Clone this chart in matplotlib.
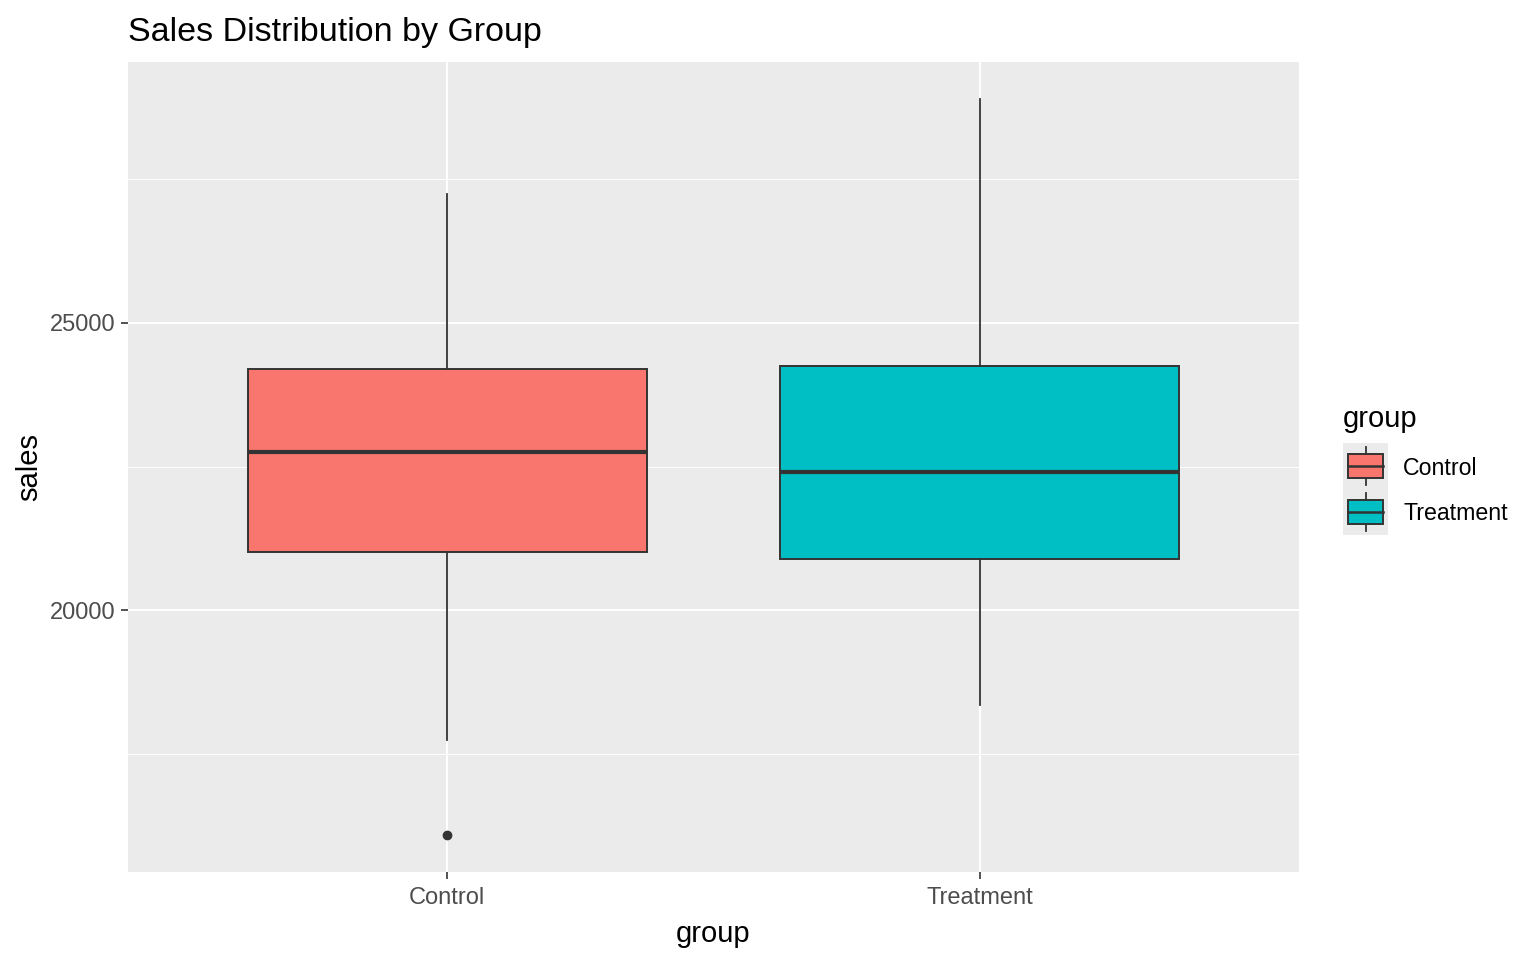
import matplotlib.pyplot as plt
from matplotlib.patches import Rectangle

plt.rcParams['font.family'] = ['Liberation Sans', 'DejaVu Sans']

groups = ['Control', 'Treatment']
colors = ['#F8766D', '#00BFC4']
whislo = [17743, 18351]
q1 = [21007, 20885]
med = [22760, 22413]
q3 = [24201, 24253]
whishi = [27240, 28889]
fliers = [[16094], []]

stats = []
for i in range(len(groups)):
    stats.append(dict(label=groups[i], whislo=whislo[i], q1=q1[i], med=med[i],
                      q3=q3[i], whishi=whishi[i], fliers=fliers[i]))

fig = plt.figure(figsize=(15.36, 9.6), dpi=100)
ax = fig.add_axes([128 / 1536, 1 - 872 / 960, (1299 - 128) / 1536, (872 - 62) / 960])
ax.set_facecolor('#EBEBEB')

bp = ax.bxp(stats, positions=[1, 2], widths=0.75, patch_artist=True, showcaps=False,
            boxprops=dict(edgecolor='#333333', linewidth=1.4),
            medianprops=dict(color='#333333', linewidth=3.0),
            whiskerprops=dict(color='#333333', linewidth=1.3),
            flierprops=dict(marker='o', markerfacecolor='#333333', markeredgecolor='#333333',
                            markersize=6), zorder=3)
for patch, c in zip(bp['boxes'], colors):
    patch.set_facecolor(c)

allv = whislo + whishi + [f for fl in fliers for f in fl]
lo, hi = min(allv), max(allv)
pad = (hi - lo) * 0.05
ax.set_ylim(lo - pad, hi + pad)
ax.set_xlim(0.4, 2.6)

ax.set_yticks([20000, 25000])
ax.set_yticks([17500, 22500, 27500], minor=True)
ax.grid(True, which='major', color='white', linewidth=1.4, zorder=0)
ax.grid(True, which='minor', axis='y', color='white', linewidth=0.7, zorder=0)
ax.set_axisbelow(True)
for s in ax.spines.values():
    s.set_visible(False)
ax.tick_params(axis='both', which='major', length=5, color='#333333', width=1.2,
               labelsize=17, labelcolor='#4D4D4D', pad=4)
ax.tick_params(axis='x', which='major', pad=6)
ax.tick_params(axis='y', which='minor', length=0)
ax.set_xticks([1, 2])
ax.set_xticklabels(groups)
ax.set_xlabel('group', fontsize=21, labelpad=8)
ax.set_ylabel('sales', fontsize=21, labelpad=5)
ax.set_title('Sales Distribution by Group', fontsize=24.5, loc='left', pad=15)

# legend
fig.text(1343 / 1536, 1 - 419 / 960, 'group', fontsize=21, va='center', ha='left')
for i, (g, c) in enumerate(zip(groups, colors)):
    top = 443 + 46 * i
    fig.patches.append(Rectangle((1343 / 1536, 1 - (top + 46) / 960), 45 / 1536, 46 / 960,
                                 transform=fig.transFigure, facecolor='#EBEBEB',
                                 edgecolor='none'))
    fig.lines.append(plt.Line2D([1365.5 / 1536] * 2, [1 - (top + 4) / 960, 1 - (top + 42) / 960],
                                transform=fig.transFigure, color='#333333', linewidth=1.3))
    fig.patches.append(Rectangle((1348 / 1536, 1 - (top + 35) / 960), 35 / 1536, 24 / 960,
                                 transform=fig.transFigure, facecolor=c,
                                 edgecolor='#333333', linewidth=1.4, zorder=3))
    fig.lines.append(plt.Line2D([1348 / 1536, 1383 / 1536], [1 - (top + 23) / 960] * 2,
                                transform=fig.transFigure, color='#333333', linewidth=1.8,
                                zorder=4))
    fig.text(1403 / 1536, 1 - (top + 25) / 960, g, fontsize=16.7, va='center', ha='left')

fig.savefig('out.png', dpi=100)
